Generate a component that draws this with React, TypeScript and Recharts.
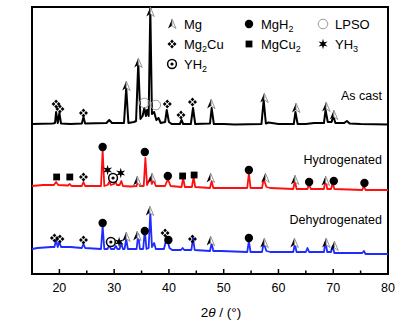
import React from 'react'
import { ComposedChart, Line, Scatter, XAxis, YAxis, ReferenceArea, ReferenceDot, Legend } from 'recharts'

// [2θ (deg), intensity (a.u., stacked offset)]
const asCast: [number, number][] = [
  [15, 150], [18.8, 150.5], [19.2, 151], [19.4, 162], [19.7, 151], [20.0, 161], [20.3, 150.5], [22, 150],
  [24.1, 150.5], [24.4, 157], [24.7, 150.5], [28.6, 151], [29.1, 154], [29.6, 151], [31.8, 151], [32.2, 186],
  [32.6, 151], [33.6, 152], [34.0, 153], [34.4, 211], [34.8, 155], [35.2, 158], [35.5, 166], [35.8, 158],
  [36.0, 164], [36.3, 158], [36.6, 266], [36.9, 160], [37.3, 162], [37.7, 154], [38.1, 156], [38.5, 151],
  [39.3, 152], [39.6, 164], [40.0, 152], [40.5, 150], [42.0, 150], [42.3, 154], [42.6, 150], [44.0, 150],
  [44.4, 166], [44.8, 150], [47.5, 150.5], [47.8, 166], [48.2, 150], [50, 150], [52, 149.5], [56.9, 150],
  [57.3, 174], [57.7, 150.5], [58.2, 151.5], [60, 150], [62.8, 150], [63.1, 162], [63.5, 150], [65, 150],
  [66.5, 151], [68.3, 151], [68.6, 164], [69.0, 152], [69.7, 152], [70.0, 158], [70.4, 151], [72.0, 151],
  [72.5, 153], [73, 150.5], [75, 150], [80, 149.5],
]

const hydrogenated: [number, number][] = [
  [15, 88], [17, 89], [19.0, 89], [19.4, 92], [19.8, 89], [21.6, 88.5], [21.9, 90], [22.2, 88], [24.1, 88],
  [24.4, 92], [24.7, 88], [27.6, 88], [27.9, 124], [28.2, 88], [28.8, 89], [29.1, 92], [29.4, 89], [30.0, 90],
  [30.2, 93], [30.5, 89], [31.0, 89], [31.3, 93], [31.6, 88], [33, 87.5], [34.1, 88], [34.4, 94], [34.7, 88],
  [35.4, 88], [35.7, 116], [36.0, 89], [36.6, 96], [36.9, 90], [37.2, 94], [37.6, 88], [39.3, 88], [39.8, 95],
  [40.3, 88], [42.3, 87], [42.6, 96], [42.9, 87], [44.2, 87], [44.5, 97], [44.8, 87], [47.5, 86], [47.8, 93],
  [48.1, 86], [50, 86], [54.3, 86], [54.6, 101], [54.9, 86], [57.0, 86], [57.3, 95], [57.8, 87], [58.5, 86],
  [62.7, 85], [63.0, 93], [63.3, 85], [65.3, 85], [65.6, 90], [65.9, 85], [68.3, 85], [68.6, 95], [68.9, 85],
  [69.6, 85], [69.9, 91], [70.2, 85], [75.3, 84], [75.6, 88], [75.9, 84], [80, 84],
]

const dehydrogenated: [number, number][] = [
  [15, 25], [16, 26], [18.5, 27], [19.1, 27], [19.4, 34], [19.7, 27], [20.0, 32], [20.3, 27], [22, 27],
  [24.1, 26], [24.4, 30], [24.7, 26], [27.6, 25], [27.9, 48], [28.2, 25], [28.8, 25], [29.1, 29], [29.4, 25],
  [30.0, 25], [30.3, 28], [30.6, 25], [31.0, 25], [31.3, 31], [31.6, 25], [31.9, 25], [32.2, 35], [32.5, 25],
  [34.1, 25], [34.4, 40], [34.7, 25], [35.3, 25], [35.6, 44], [35.9, 25], [36.3, 26], [36.6, 62], [36.9, 27],
  [37.3, 31], [37.6, 25], [39.1, 25], [39.6, 37], [40.1, 26], [40.6, 24], [42.2, 24], [42.5, 26], [42.8, 24],
  [44.1, 24], [44.4, 36], [44.7, 24], [47.5, 23], [47.8, 31], [48.1, 23], [49.5, 23], [54.3, 22], [54.6, 33],
  [54.9, 22], [57.0, 22], [57.3, 31], [57.8, 23], [58.5, 22], [62.7, 22], [63.0, 30], [63.3, 22], [65.0, 22],
  [65.3, 26], [65.6, 22], [68.3, 22], [68.6, 32], [68.9, 22], [69.6, 22], [69.9, 28], [70.2, 21], [72, 21],
  [75.3, 21], [75.6, 23], [75.9, 20], [80, 20],
]

// phase markers [2θ, marker height]
const mgPeaks: [number, number][] = [
  [32.2, 188], [34.4, 211], [36.6, 262], [47.7, 170], [57.4, 176], [63.2, 166], [68.7, 167], [70.1, 159],
  [34.2, 93], [36.9, 96], [47.6, 96], [57.6, 96], [63.0, 94], [68.6, 93],
  [32.2, 37], [34.2, 38], [36.5, 63], [47.6, 33], [57.4, 31], [62.9, 31], [68.7, 31], [70.2, 28],
]
const mg2CuPeaks: [number, number][] = [
  [19.4, 170], [20.1, 165], [24.4, 161], [39.7, 170], [42.2, 159], [44.3, 172],
  [24.4, 97],
  [19.1, 36], [20.1, 35], [24.4, 34], [39.3, 41], [44.3, 35],
]
const mgH2Peaks: [number, number][] = [
  [27.9, 127], [35.6, 122], [39.8, 98], [54.6, 104], [65.6, 92], [70.1, 93], [75.7, 91],
  [27.9, 51], [35.6, 43], [39.9, 34], [54.6, 36],
]
const lpsoPeaks: [number, number][] = [[35.5, 171], [37.6, 169]]
const mgCu2Peaks: [number, number][] = [[19.5, 97], [21.9, 97], [42.5, 98], [44.6, 99]]
const yh3Peaks: [number, number][] = [[28.8, 104], [31.2, 101], [30.9, 32]]
const yh2Peaks: [number, number][] = [[29.8, 96], [29.4, 32]]

const xTicks = [20, 25, 30, 35, 40, 45, 50, 55, 60, 65, 70, 75, 80]

const FONT = '"Liberation Sans", Arial, sans-serif'

const toPts = (arr: [number, number][]) => arr.map(([x, y]) => ({ x, y }))

function MgMark({ cx, cy }: any) {
  return (
    <g transform={`translate(${cx},${cy})`}>
      <path d="M0,-5 L-4,4.5 L0,1.8 Z" fill="#000" />
      <path d="M0,-5 L4,4.5 L0,1.8 Z" fill="#fff" stroke="#8a8a8a" strokeWidth={0.9} />
    </g>
  )
}

function Mg2CuMark({ cx, cy }: any) {
  const d = 2.6
  const h = 1.9
  return (
    <g transform={`translate(${cx},${cy})`}>
      {[[0, -d], [0, d], [-d, 0], [d, 0]].map(([dx, dy], i) => (
        <path key={i} d={`M${dx},${dy - h} L${dx + h},${dy} L${dx},${dy + h} L${dx - h},${dy} Z`} fill="#000" />
      ))}
    </g>
  )
}

function MgH2Mark({ cx, cy }: any) {
  return <circle cx={cx} cy={cy} r={4.2} fill="#000" />
}

function LpsoMark({ cx, cy }: any) {
  return <circle cx={cx} cy={cy} r={4.8} fill="none" stroke="#9a9a9a" strokeWidth={1} />
}

function MgCu2Mark({ cx, cy }: any) {
  return <rect x={cx - 3.4} y={cy - 3.4} width={6.8} height={6.8} fill="#000" />
}

function Yh3Mark({ cx, cy }: any) {
  const pts: string[] = []
  for (let i = 0; i < 12; i++) {
    const r = i % 2 === 0 ? 5.2 : 2
    const a = (Math.PI / 6) * i - Math.PI / 2
    pts.push(`${(cx + r * Math.cos(a)).toFixed(2)},${(cy + r * Math.sin(a)).toFixed(2)}`)
  }
  return <polygon points={pts.join(' ')} fill="#000" />
}

function Yh2Mark({ cx, cy }: any) {
  return (
    <g>
      <circle cx={cx} cy={cy} r={4.4} fill="#fff" stroke="#000" strokeWidth={1.5} />
      <circle cx={cx} cy={cy} r={1.6} fill="#000" />
    </g>
  )
}

function Sub({ main, sub, after }: { main: string; sub?: string; after?: string }) {
  return (
    <>
      {main}
      {sub && (
        <tspan fontSize={9} dy={3}>
          {sub}
        </tspan>
      )}
      {after && <tspan dy={-3}>{after}</tspan>}
    </>
  )
}

function PhaseLegend() {
  const t = { fontSize: 13, fontFamily: FONT, fill: '#000' }
  const rows = [24, 44, 64]
  return (
    <svg width={408} height={80} style={{ position: 'absolute', left: 0, top: 0 }}>
      <MgMark cx={172} cy={rows[0]} />
      <text x={184} y={rows[0] + 4.5} {...t}>Mg</text>
      <Mg2CuMark cx={172} cy={rows[1]} />
      <text x={184} y={rows[1] + 4.5} {...t}><Sub main="Mg" sub="2" after="Cu" /></text>
      <Yh2Mark cx={172} cy={rows[2]} />
      <text x={184} y={rows[2] + 4.5} {...t}><Sub main="YH" sub="2" /></text>
      <MgH2Mark cx={249} cy={rows[0]} />
      <text x={261} y={rows[0] + 4.5} {...t}><Sub main="MgH" sub="2" /></text>
      <MgCu2Mark cx={249} cy={rows[1]} />
      <text x={261} y={rows[1] + 4.5} {...t}><Sub main="MgCu" sub="2" /></text>
      <LpsoMark cx={323} cy={rows[0]} />
      <text x={335} y={rows[0] + 4.5} {...t}>LPSO</text>
      <Yh3Mark cx={323} cy={rows[1]} />
      <text x={335} y={rows[1] + 4.5} {...t}><Sub main="YH" sub="3" /></text>
    </svg>
  )
}

function AxisTick({ x, y, payload }: any) {
  const major = payload.value % 10 === 0
  return (
    <g>
      <line x1={x} x2={x} y1={y} y2={y - (major ? 5 : 3.5)} stroke="#000" strokeWidth={1.5} />
      {major && (
        <text x={x} y={y + 18} textAnchor="middle" fontSize={12.5} fontFamily={FONT} fill="#000">
          {payload.value}
        </text>
      )}
    </g>
  )
}

function XLabel({ viewBox }: any) {
  return (
    <text x={viewBox.x + viewBox.width / 2 + 11} y={viewBox.y + 43} textAnchor="middle" fontSize={13.5} fontFamily={FONT} fill="#000">
      2<tspan fontStyle="italic">θ</tspan> / (°)
    </text>
  )
}

function YLabel({ viewBox }: any) {
  const cx = viewBox.x - 17
  const cy = viewBox.y + viewBox.height / 2 - 9
  return (
    <text x={cx} y={cy} transform={`rotate(-90, ${cx}, ${cy})`} textAnchor="middle" dominantBaseline="central" fontSize={13.5} fontFamily={FONT} fill="#000">
      Intensity / a.u.
    </text>
  )
}

function SampleLabel({ viewBox, text }: any) {
  return (
    <text x={viewBox.x} y={viewBox.y + 4.5} textAnchor="end" fontSize={12.5} fontFamily={FONT} fill="#000">
      {text}
    </text>
  )
}

export default function App() {
  return (
    <div style={{ position: 'absolute', left: 0, top: 0, fontFamily: FONT }}>
      <ComposedChart width={408} height={325} margin={{ top: 7, right: 20, left: 32, bottom: 6 }}>
        <XAxis
          dataKey="x"
          type="number"
          domain={[15, 80]}
          ticks={xTicks}
          interval={0}
          allowDataOverflow
          axisLine={false}
          tickLine={false}
          tickSize={0}
          tickMargin={0}
          height={45}
          tick={<AxisTick />}
          label={<XLabel />}
        />
        <YAxis type="number" domain={[0, 267]} allowDataOverflow width={0} tick={false} axisLine={false} tickLine={false} label={<YLabel />} />
        <Legend content={<PhaseLegend />} layout="horizontal" verticalAlign="middle" align="center" wrapperStyle={{ left: 0, top: 0, width: 408, height: 80 }} />

        <Line data={toPts(asCast)} dataKey="y" type="linear" stroke="#000" strokeWidth={2} strokeLinejoin="round" dot={false} isAnimationActive={false} />
        <Line data={toPts(hydrogenated)} dataKey="y" type="linear" stroke="#ff1010" strokeWidth={1.8} strokeLinejoin="round" dot={false} isAnimationActive={false} />
        <Line data={toPts(dehydrogenated)} dataKey="y" type="linear" stroke="#1f2cff" strokeWidth={1.8} strokeLinejoin="round" dot={false} isAnimationActive={false} />

        <Scatter data={toPts(mgPeaks)} dataKey="y" shape={(p: any) => <MgMark cx={p.cx} cy={p.cy} />} isAnimationActive={false} />
        <Scatter data={toPts(mg2CuPeaks)} dataKey="y" shape={(p: any) => <Mg2CuMark cx={p.cx} cy={p.cy} />} isAnimationActive={false} />
        <Scatter data={toPts(mgH2Peaks)} dataKey="y" shape={(p: any) => <MgH2Mark cx={p.cx} cy={p.cy} />} isAnimationActive={false} />
        <Scatter data={toPts(lpsoPeaks)} dataKey="y" shape={(p: any) => <LpsoMark cx={p.cx} cy={p.cy} />} isAnimationActive={false} />
        <Scatter data={toPts(mgCu2Peaks)} dataKey="y" shape={(p: any) => <MgCu2Mark cx={p.cx} cy={p.cy} />} isAnimationActive={false} />
        <Scatter data={toPts(yh3Peaks)} dataKey="y" shape={(p: any) => <Yh3Mark cx={p.cx} cy={p.cy} />} isAnimationActive={false} />
        <Scatter data={toPts(yh2Peaks)} dataKey="y" shape={(p: any) => <Yh2Mark cx={p.cx} cy={p.cy} />} isAnimationActive={false} />

        <ReferenceDot x={78.9} y={179} r={0} fill="none" stroke="none" label={<SampleLabel text="As cast" />} />
        <ReferenceDot x={78.9} y={115} r={0} fill="none" stroke="none" label={<SampleLabel text="Hydrogenated" />} />
        <ReferenceDot x={78.9} y={55} r={0} fill="none" stroke="none" label={<SampleLabel text="Dehydrogenated" />} />

        <ReferenceArea x1={15} x2={80} y1={0} y2={267} fill="none" stroke="#000" strokeWidth={2} />
      </ComposedChart>
    </div>
  )
}
